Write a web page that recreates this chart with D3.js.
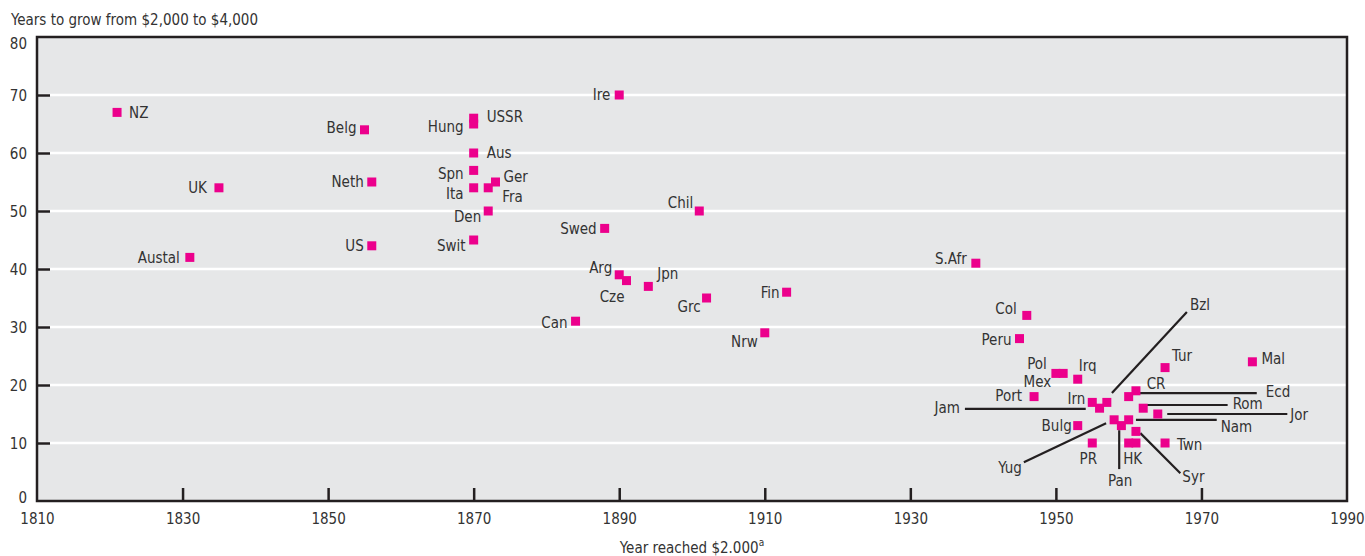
<!DOCTYPE html>
<html>
<head>
<meta charset="utf-8">
<script src="https://cdn.jsdelivr.net/npm/d3@7.9.0/dist/d3.min.js"></script>
<style>
  html, body { margin: 0; padding: 0; background: #fff; }
  svg { display: block; }
  text { font-family: "Liberation Sans Narrow", "Arial Narrow", "DejaVu Sans Condensed", sans-serif; fill: #333; }
</style>
</head>
<body>
<svg id="chart" width="1365" height="556"></svg>
<script>
// countries, year each reached $2,000, years to grow to $4,000
var countries = ['NZ', 'UK', 'Austal', 'Belg', 'Neth', 'US', 'USSR', 'Hung', 'Aus', 'Spn', 'Ita', 'Ger', 'Fra', 'Den', 'Swit',
    'Ire', 'Swed', 'Chil', 'Arg', 'Cze', 'Jpn', 'Can', 'Grc', 'Fin', 'Nrw', 'S.Afr', 'Col', 'Peru', 'Pol', 'Mex', 'Irq',
    'Port', 'Tur', 'Mal', 'Irn', 'Jam', 'Bzl', 'Yug', 'Pan', 'Nam', 'Syr', 'CR', 'Ecd', 'Rom', 'Jor', 'Bulg', 'PR', 'HK', '', 'Twn']
var yearReached = [1821, 1835, 1831, 1855, 1856, 1856, 1870, 1870, 1870, 1870, 1870, 1873, 1872, 1872, 1870,
    1890, 1888, 1901, 1890, 1891, 1894, 1884, 1902, 1913, 1910, 1939, 1946, 1945, 1950, 1951, 1953,
    1947, 1965, 1977, 1955, 1956, 1957, 1958, 1959, 1960, 1961, 1960, 1961, 1962, 1964, 1953, 1955, 1960, 1961, 1965]
var yearsToDouble = [67, 54, 42, 64, 55, 44, 66, 65, 60, 57, 54, 55, 54, 50, 45,
    70, 47, 50, 39, 38, 37, 31, 35, 36, 29, 41, 32, 28, 22, 22, 21,
    18, 23, 24, 17, 16, 17, 14, 13, 14, 12, 18, 19, 16, 15, 13, 10, 10, 10, 10]

// label placement: [country, dx, dy, anchor]
var labelPlace = [
    ['NZ', 12, 0, 'start'], ['UK', -12, 0, 'end'], ['Austal', -10, 0, 'end'], ['Belg', -8, -2, 'end'],
    ['Neth', -8, 0, 'end'], ['US', -8, 0, 'end'], ['USSR', 13, -1, 'start'], ['Hung', -10, 3, 'end'],
    ['Aus', 13, 0, 'start'], ['Spn', -10, 3, 'end'], ['Ita', -10, 6, 'end'], ['Ger', 8, -5, 'start'],
    ['Fra', 14, 9, 'start'], ['Den', -7, 6, 'end'], ['Swit', -8, 6, 'end'], ['Ire', -9, 0, 'end'],
    ['Swed', -8, 0, 'end'], ['Chil', -6, -8, 'end'], ['Arg', -7, -7, 'end'], ['Cze', -2, 16, 'end'],
    ['Jpn', 9, -13, 'start'], ['Can', -8, 2, 'end'], ['Grc', -6, 9, 'end'], ['Fin', -7, 1, 'end'],
    ['Nrw', -7, 9, 'end'], ['S.Afr', -9, -4, 'end'], ['Col', -10, -7, 'end'], ['Peru', -8, 1, 'end'],
    ['Pol', -9, -10, 'end'], ['Mex', -12, 8, 'end'], ['Irq', 1, -13, 'start'], ['Port', -12, -1, 'end'],
    ['Tur', 7, -12, 'start'], ['Mal', 9, -3, 'start'], ['Irn', -7, -4, 'end'], ['Bulg', -6, 0, 'end'],
    ['PR', -4, 16, 'middle'], ['HK', 4, 16, 'middle'], ['Twn', 12, 2, 'start'], ['CR', 18, -13, 'start']
]

// leader lines: [country, fromYear, fromValue, toYear, toValue, label dx, label dy, anchor]
var leaders = [
    ['Bzl', 1957.7, 18.6, 1968.0, 32.6, 3, -7, 'start'],
    ['Jam', 1954.1, 15.9, 1937.5, 15.9, -5, -1, 'end'],
    ['Yug', 1956.9, 13.4, 1945.6, 6.7, -2, 6, 'end'],
    ['Pan', 1958.7, 12.2, 1958.7, 5.5, 1, 12, 'middle'],
    ['Nam', 1961.0, 14.0, 1972.1, 14.0, 4, 7, 'start'],
    ['Syr', 1961.6, 11.7, 1967.1, 4.8, 2, 4, 'start'],
    ['Ecd', 1961.0, 18.6, 1977.6, 18.6, 9, -1, 'start'],
    ['Rom', 1962.5, 16.55, 1973.6, 16.55, 5, -1, 'start'],
    ['Jor', 1965.3, 15.0, 1981.8, 15.0, 3, 1, 'start']
]

var xTicks = [1810, 1830, 1850, 1870, 1890, 1910, 1930, 1950, 1970, 1990]
var yTicks = [0, 10, 20, 30, 40, 50, 60, 70, 80]

var FONT = '"Liberation Sans Narrow", "Arial Narrow", "DejaVu Sans Condensed", sans-serif'
var FS = 15

var margin = { top: 37, right: 18, bottom: 55, left: 37 }
var W = 1365, H = 556
var iw = W - margin.left - margin.right
var ih = H - margin.top - margin.bottom

var x = d3.scaleLinear().domain([1810, 1990]).range([0, iw])
var y = d3.scaleLinear().domain([0, 80]).range([ih, 0])

var svg = d3.select('#chart')
var g = svg.append('g').attr('transform', 'translate(' + margin.left + ',' + margin.top + ')')

svg.append('text')
    .attr('x', 11).attr('y', 25)
    .attr('font-size', FS)
    .text('Years to grow from $2,000 to $4,000')

g.append('rect')
    .attr('width', iw).attr('height', ih)
    .attr('fill', '#e6e7e8')

// white gridlines
g.selectAll('.grid')
    .data(yTicks.filter(function (t) { return t > 0 && t < 80 }))
    .join('line')
    .attr('x1', 0).attr('x2', iw)
    .attr('y1', function (d) { return y(d) }).attr('y2', function (d) { return y(d) })
    .attr('stroke', '#fff').attr('stroke-width', 2.5)

// y axis
var yAxis = d3.axisLeft(y).tickValues(yTicks).tickSize(-13).tickPadding(10)
var ya = g.append('g').call(yAxis)
ya.select('.domain').remove()
ya.selectAll('.tick line').attr('stroke', '#231f20').attr('stroke-width', 2.5)
ya.selectAll('.tick text')
    .attr('font-size', FS).attr('fill', '#333').attr('font-family', FONT)
    .attr('dy', function (d) { return d === 80 ? '0.75em' : d === 0 ? '0.1em' : '0.35em' })
ya.selectAll('.tick').filter(function (d) { return d === 0 || d === 80 }).select('line').remove()

// x axis
var xAxis = d3.axisBottom(x).tickValues(xTicks).tickFormat(d3.format('d')).tickSize(-13).tickPadding(12)
var xa = g.append('g').attr('transform', 'translate(0,' + ih + ')').call(xAxis)
xa.select('.domain').remove()
xa.selectAll('.tick line').attr('stroke', '#231f20').attr('stroke-width', 2.5)
xa.selectAll('.tick').filter(function (d) { return d === 1810 || d === 1990 }).select('line').remove()
xa.selectAll('.tick text')
    .attr('font-size', FS).attr('fill', '#333').attr('font-family', FONT)

// frame
g.append('rect')
    .attr('width', iw).attr('height', ih)
    .attr('fill', 'none')
    .attr('stroke', '#231f20').attr('stroke-width', 2.5)

var xt = svg.append('text')
    .attr('x', margin.left + iw / 2).attr('y', 553)
    .attr('text-anchor', 'middle')
    .attr('font-size', FS)
xt.append('tspan').text('Year reached $2.000')
xt.append('tspan').attr('font-size', 10).attr('dy', -7).text('a')

// leader lines under the markers
g.selectAll('.leader')
    .data(leaders)
    .join('line')
    .attr('x1', function (d) { return x(d[1]) }).attr('y1', function (d) { return y(d[2]) })
    .attr('x2', function (d) { return x(d[3]) }).attr('y2', function (d) { return y(d[4]) })
    .attr('stroke', '#231f20').attr('stroke-width', 2.2)

var pts = countries.map(function (c, i) {
    return { name: c, year: yearReached[i], val: yearsToDouble[i] }
})

var S = 9
g.selectAll('.pt')
    .data(pts)
    .join('rect')
    .attr('x', function (d) { return x(d.year) - S / 2 })
    .attr('y', function (d) { return y(d.val) - S / 2 })
    .attr('width', S).attr('height', S)
    .attr('fill', '#ec008c')

var byName = {}
pts.forEach(function (p) { if (p.name) byName[p.name] = p })

g.selectAll('.lab')
    .data(labelPlace)
    .join('text')
    .attr('x', function (d) { return x(byName[d[0]].year) + d[1] })
    .attr('y', function (d) { return y(byName[d[0]].val) + d[2] })
    .attr('dy', '0.35em')
    .attr('text-anchor', function (d) { return d[3] })
    .attr('font-size', FS)
    .text(function (d) { return d[0] })

g.selectAll('.llab')
    .data(leaders)
    .join('text')
    .attr('x', function (d) { return x(d[3]) + d[5] })
    .attr('y', function (d) { return y(d[4]) + d[6] })
    .attr('dy', '0.35em')
    .attr('text-anchor', function (d) { return d[7] })
    .attr('font-size', FS)
    .text(function (d) { return d[0] })
</script>
</body>
</html>
